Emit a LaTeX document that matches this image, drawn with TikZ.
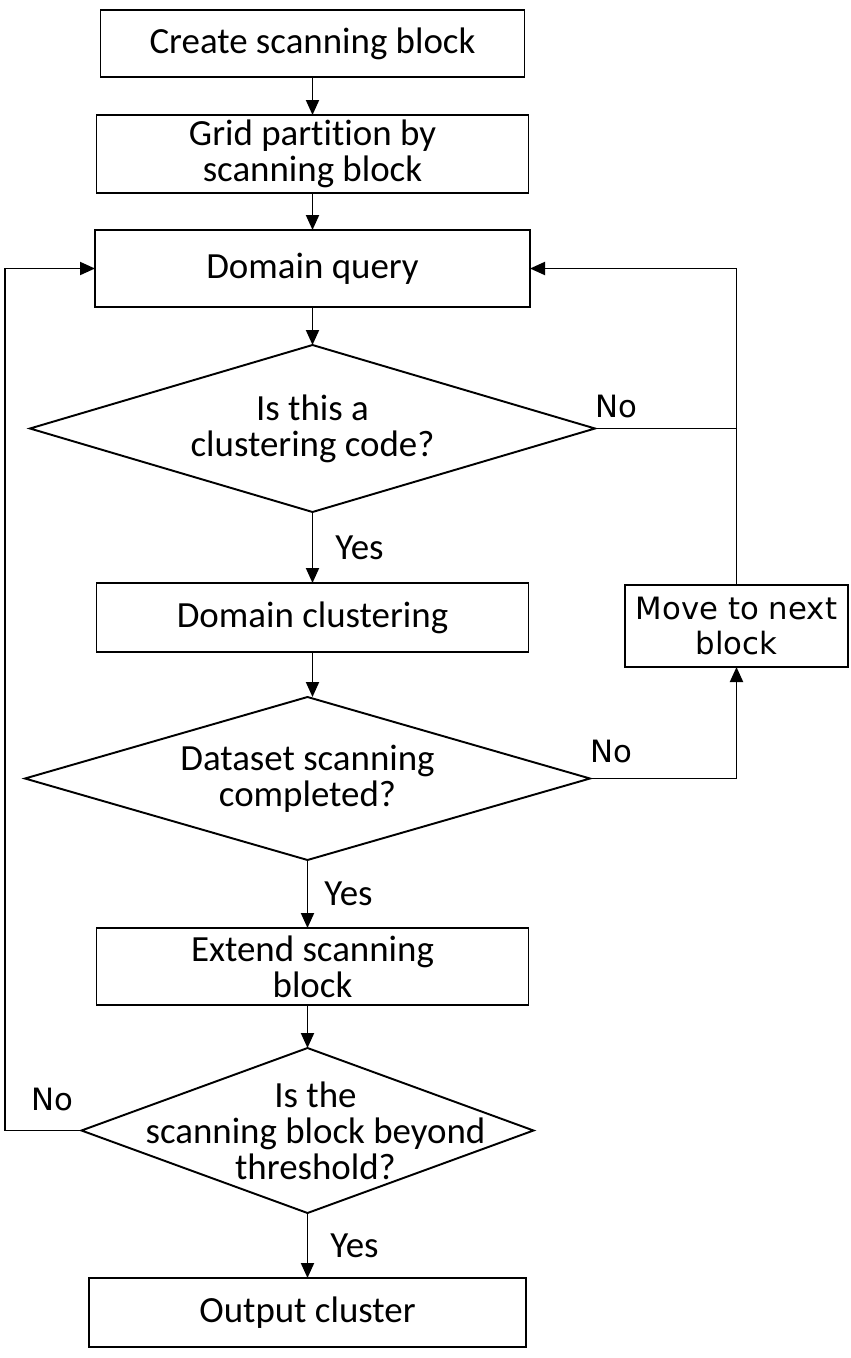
\documentclass[tikz,border=0pt]{standalone}
\usepackage{fontspec}
\setmainfont{Carlito}[Ligatures=NoCommon]
\newfontfamily\dejavusans{DejaVu Sans}
\usepackage{tikz}
\usetikzlibrary{shapes.geometric, arrows.meta, positioning}
\newcommand{\flowfont}{\fontsize{21}{20.5}\selectfont}
\newcommand{\sidefont}{\dejavusans\fontsize{17.5}{20}\selectfont}
\tikzset{
  procbox/.style={rectangle, draw=black, fill=white, align=center,
    minimum width=8.64cm, minimum height=1.54cm,
    font=\flowfont, inner sep=0pt, outer sep=0pt, line width=1.1pt},
  decision/.style={diamond, draw=black, fill=white, align=center, aspect=3.4,
    minimum width=11.3cm, minimum height=3.34cm,
    font=\flowfont, inner sep=0pt, outer sep=0pt, line width=1.1pt},
  nolabel/.style={font=\sidefont, inner sep=0pt},
  yeslabel/.style={font=\flowfont, inner sep=0pt},
  arrow/.style={-{Triangle[length=0.3cm, width=0.26cm]}, line width=1.1pt, color=black},
  line/.style={line width=1.1pt, color=black}
}
\begin{document}
\begin{tikzpicture}[node distance=0.76cm]
  \useasboundingbox (0,0) rectangle (17,-27.16);
  \node[procbox, minimum width=8.48cm, minimum height=1.34cm] (create) at (6.25,-0.87) {Create scanning block};
  \node[procbox, minimum height=1.56cm, below=0.76cm of create] (grid) {Grid partition by\\scanning block};
  \node[procbox, minimum width=8.7cm, below=0.74cm of grid] (query) {Domain query};
  \node[decision, below=0.76cm of query] (d1) {Is this a\\clustering code?};
  \node[procbox, minimum height=1.38cm, below=1.42cm of d1] (clust) {Domain clustering};
  \node[decision, minimum height=3.26cm, below=0.9cm of clust, xshift=-0.1cm] (d2) {Dataset scanning\\completed?};
  \node[procbox, below=1.36cm of d2, xshift=0.1cm] (extend) {Extend scanning\\block};
  \node[decision, minimum width=9.04cm, minimum height=3.3cm, below=0.86cm of extend, xshift=-0.1cm,
    label={[name=d3text, font=\flowfont, align=center, xshift=0.16cm]center:{Is the\\scanning block beyond\\threshold?}}] (d3) {};
  \node[procbox, minimum width=8.74cm, minimum height=1.38cm, below=1.3cm of d3] (output) {Output cluster};
  \node[procbox, minimum width=4.46cm, minimum height=1.64cm, font=\sidefont] (move) at (14.73,-12.52) {Move to next\\block};
  \coordinate (leftrail) at (0.1,0);

  \draw[arrow] (create) -- (grid);
  \draw[arrow] (grid) -- (query);
  \draw[arrow] (query) -- (d1);
  \draw[arrow] (d1) -- node[yeslabel, right=0.44cm] (yes1) {Yes} (clust);
  \draw[arrow] (clust.south) -- (clust.south |- d2.north);
  \draw[arrow] (d2) -- node[yeslabel, right=0.32cm] (yes2) {Yes} (d2 |- extend.north);
  \draw[arrow] (extend.south -| d3) -- (d3.north);
  \draw[arrow] (d3) -- node[yeslabel, right=0.44cm] (yes3) {Yes} (output);

  % loop back on the right
  \draw[line] (d1.east) -- (d1.east -| move.north);
  \node[nolabel, anchor=south west] (no1) at ([yshift=0.2cm]d1.east) {No};
  \draw[arrow] (move.north) |- (query.east);
  \draw[arrow] (d2.east) -| (move.south);
  \node[nolabel, anchor=south west] (no2) at ([yshift=0.3cm]d2.east) {No};

  % loop back on the left
  \draw[arrow] (d3.west) -- (d3.west -| leftrail) |- (query.west);
  \node[nolabel, anchor=south east] (no3) at ([xshift=-0.16cm, yshift=0.38cm]d3.west) {No};
\end{tikzpicture}
\end{document}
